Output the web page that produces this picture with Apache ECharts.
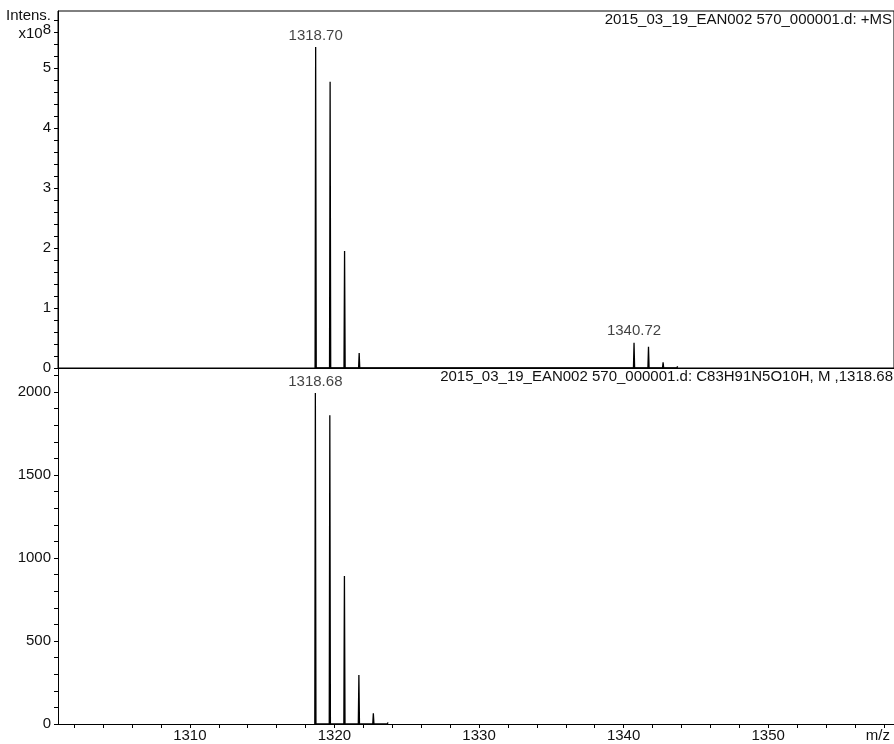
<!DOCTYPE html>
<html><head><meta charset="utf-8">
<script src="https://cdn.jsdelivr.net/npm/echarts@6/dist/echarts.min.js"></script>
<style>html,body{margin:0;padding:0;background:#fff}#c{width:894px;height:744px}</style>
</head><body><div id="c"></div>
<script>
// ---- data ----
const topMz = [1318.70, 1319.70, 1320.70, 1321.71, 1322.71, 1340.72, 1341.72, 1342.73, 1343.73];
const topInt = [5.35, 4.77, 1.95, 0.25, 0.03, 0.42, 0.355, 0.095, 0.03]; // x10^8
const topLabelMz = [1318.70, 1340.72];
const topLabelInt = [5.35, 0.42];
const simMz = [1318.68, 1319.68, 1320.69, 1321.69, 1322.69, 1323.70];
const simInt = [1995, 1861, 891, 295, 64, 10];
const simLabelMz = [1318.68];
const simLabelInt = [1995];
const xTickValues = [1302,1304,1306,1308,1310,1312,1314,1316,1318,1320,1322,1324,1326,1328,1330,1332,1334,1336,1338,1340,1342,1344,1346,1348,1350,1352,1354,1356,1358];
const xLabelValues = [1310, 1320, 1330, 1340, 1350, 1358];
const topYTicks = [0,0.2,0.4,0.6,0.8,1,1.2,1.4,1.6,1.8,2,2.2,2.4,2.6,2.8,3,3.2,3.4,3.6,3.8,4,4.2,4.4,4.6,4.8,5,5.2,5.4,5.6,5.8];
const topYLabels = [0,1,2,3,4,5,5.6];
const botYTicks = [0,100,200,300,400,500,600,700,800,900,1000,1100,1200,1300,1400,1500,1600,1700,1800,1900,2000,2100];
const botYLabels = [0,500,1000,1500,2000];
const yName = 'Intens.';
const title1 = '2015_03_19_EAN002 570_000001.d: +MS';
const title2 = '2015_03_19_EAN002 570_000001.d: C83H91N5O10H, M ,1318.68';

const HW = 0.04; // half peak width (m/z)
function profile(mz, it){
  const d = [];
  for (let i = 0; i < mz.length; i++){ d.push([mz[i]-HW,0],[mz[i],it[i]],[mz[i]+HW,0]); }
  return d;
}
const FONT = 'Arial, "Liberation Sans", sans-serif';
const TXT = '#111';
const FS = 15;
const axisLine = {show:true, onZero:false, lineStyle:{color:'#000', width:1}};
const tStyle = {fontFamily:FONT,fontSize:FS,fontWeight:'normal',color:TXT};

const chart = echarts.init(document.getElementById('c'));
chart.setOption({
  animation:false,
  textStyle:{fontFamily:FONT},
  title:[
    {text:title1, right:2, top:12, padding:0, textStyle:tStyle},
    {text:title2, right:1, top:369, padding:0, textStyle:tStyle},
    {text:yName, right:843, top:8, padding:0, textStyle:tStyle}
  ],
  grid:[
    {left:58, top:11, width:837, height:357, show:true, borderColor:'#000', borderWidth:1, backgroundColor:'transparent'},
    {left:58, top:368, width:837, height:356}
  ],
  xAxis:[
    {type:'value', gridIndex:0, min:1300.88, max:1358.7, axisLine:axisLine, axisTick:{show:false}, axisLabel:{show:false}, splitLine:{show:false}},
    {type:'value', gridIndex:1, min:1300.88, max:1358.7, axisLine:axisLine,
     axisTick:{show:true, length:4, customValues:xTickValues, lineStyle:{color:'#000'}},
     axisLabel:{show:true, customValues:xLabelValues, margin:4, fontSize:FS, color:TXT, fontFamily:FONT, showMaxLabel:true, showMinLabel:true,
       formatter:function(v){ return v===1358 ? '{mz|m/z}' : String(v); },
       rich:{mz:{fontSize:FS, color:TXT, fontFamily:FONT, padding:[0,12,0,0]}}},
     splitLine:{show:false}}
  ],
  yAxis:[
    {type:'value', gridIndex:0, min:0, max:5.95, axisLine:axisLine,
     axisTick:{show:true, length:4, customValues:topYTicks, lineStyle:{color:'#000'}},
     axisLabel:{show:true, customValues:topYLabels, margin:7, fontSize:FS, color:TXT, fontFamily:FONT, showMaxLabel:true, showMinLabel:true,
       formatter:function(v){ if (Math.abs(v-5.6)<1e-6) return '{a|x10}{s|8}'; return String(v); },
       rich:{a:{fontSize:FS,color:TXT,fontFamily:FONT,padding:[3,0,0,0]}, s:{fontSize:FS,color:TXT,fontFamily:FONT,padding:[0,0,4,0]}}},
     splitLine:{show:false}},
    {type:'value', gridIndex:1, min:0, max:2145, axisLine:axisLine,
     axisTick:{show:true, length:4, customValues:botYTicks, lineStyle:{color:'#000'}},
     axisLabel:{show:true, customValues:botYLabels, margin:7, fontSize:FS, color:TXT, fontFamily:FONT, showMaxLabel:true, showMinLabel:true,
       formatter:function(v){ return String(v); }},
     splitLine:{show:false}}
  ],
  series:[
    {type:'line', xAxisIndex:0, yAxisIndex:0, data:profile(topMz, topInt), showSymbol:false, symbol:'none',
     lineStyle:{color:'#000', width:1.3}},
    {type:'line', xAxisIndex:1, yAxisIndex:1, data:profile(simMz, simInt), showSymbol:false, symbol:'none',
     lineStyle:{color:'#000', width:1.3}},
    {type:'scatter', xAxisIndex:0, yAxisIndex:0, symbolSize:0, data:topLabelMz.map((m,i)=>[m, topLabelInt[i]]),
     label:{show:true, position:'top', distance:4, fontSize:FS, color:TXT, fontFamily:FONT, formatter:p=>p.value[0].toFixed(2)}},
    {type:'scatter', xAxisIndex:1, yAxisIndex:1, symbolSize:0, data:simLabelMz.map((m,i)=>[m, simLabelInt[i]]),
     label:{show:true, position:'top', distance:4, fontSize:FS, color:TXT, fontFamily:FONT, formatter:p=>p.value[0].toFixed(2)}}
  ]
});
</script></body></html>
